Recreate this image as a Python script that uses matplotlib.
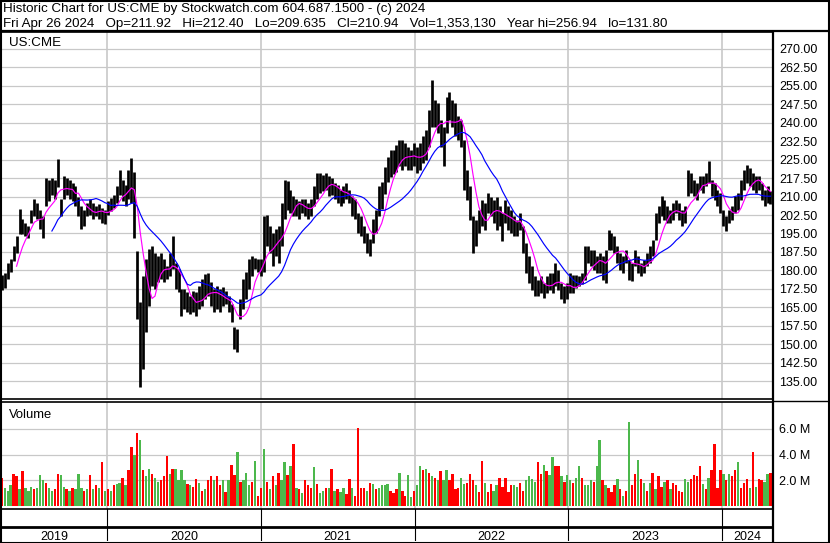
import numpy as np
import pandas as pd
import matplotlib
matplotlib.use("Agg")
import matplotlib.pyplot as plt
import matplotlib.dates as mdates
from matplotlib.lines import Line2D
from matplotlib.patches import Rectangle

plt.rcParams['font.family'] = ['Liberation Sans', 'DejaVu Sans']

# ---------------- data (weekly) ----------------
week_start = '2019-04-26'
n_weeks = 262

high = [178, 179, 183.2, 184.5, 190, 194, 205, 200.7, 199.4, 198,
        204.7, 208.8, 207.4, 204.7, 202, 217.5, 216.8, 217.5, 216.8, 225.2,
        208.8, 218.2, 217.5, 216.8, 215.5, 214.2, 210, 206, 204.7, 207.4,
        208.8, 207.4, 206, 206.8, 205.4, 204.7, 208, 209.4, 210.8, 214.2,
        220.9, 216.8, 214.8, 220.9, 225.6, 220, 187.9, 167, 177.8, 184.5,
        188.6, 190, 187.2, 185.9, 187.2, 184.5, 181.8, 187.2, 194, 183.2,
        180.5, 172.4, 172.4, 171.1, 169.7, 171.8, 171.1, 173.8, 176.5, 178.5,
        178.9, 175.1, 172.4, 173.8, 172.4, 173.1, 171.8, 169.7, 166.4, 157,
        156.3, 168.4, 176.5, 179.2, 184.5, 185.9, 185.2, 184.5, 184.5, 202,
        202.7, 198, 195.3, 196.7, 198, 207.4, 216.8, 216.2, 212.8, 210.1,
        208.8, 208, 208.8, 208.8, 207.4, 208.8, 214.2, 219.5, 219.5, 218.9,
        219.5, 218.2, 217.5, 215.5, 214.8, 212.8, 214.2, 215.5, 212.8, 210.1,
        208.8, 203.4, 202, 198, 195.3, 192.6, 200.7, 204.7, 214.2, 216,
        222, 226, 229, 229, 231, 233, 233, 231.7, 230.3, 229,
        231.7, 230.3, 231.7, 234.4, 237, 245.2, 257.4, 249.3, 247.9, 241.1,
        238.4, 250.6, 252.4, 249.3, 247.9, 242.5, 241.1, 233, 220.9, 214.1,
        202, 200.6, 204.7, 208.7, 207.4, 211.4, 210, 208.7, 210, 206,
        203.3, 208.7, 206, 204.7, 202, 200.6, 203.3, 197.9, 191.2, 185.8,
        181.7, 177.6, 176.3, 177.6, 175, 177.6, 179, 179, 183, 180.3,
        175, 173.6, 175, 179, 178, 178.3, 177.6, 179, 189.8, 189.8,
        188.4, 188.4, 185.7, 187.1, 185.7, 188.4, 196.6, 195.2, 193.9, 189.8,
        187.1, 185.7, 188.4, 184.4, 183, 188.4, 185.7, 183, 184.4, 187.1,
        189.8, 192.5, 203.3, 206, 210.1, 208.7, 206, 204.7, 207.4, 208.7,
        207.4, 204.7, 206, 220.9, 219.5, 216.8, 215.5, 218.2, 218.2, 219.5,
        224.3, 216.8, 215.5, 212.8, 211.4, 204.7, 202, 204.7, 206, 210.1,
        211.4, 216.8, 220.9, 222.9, 221.6, 219.5, 218.2, 218.2, 215.5, 212.8,
        214.1, 212.4]

low = [172, 173, 176.5, 179.2, 183.9, 187.2, 194.6, 194.6, 194, 193.3,
       199.4, 202, 200.7, 196.7, 193.3, 206, 208, 210.8, 208.8, 214,
       202, 208.8, 210.8, 208.8, 208, 206, 202, 196.7, 198, 202,
       202.7, 200.7, 202, 200.7, 199.4, 198.7, 202.7, 204, 205.4, 207.4,
       210.8, 208, 206, 208.8, 207.4, 193, 160.3, 132.7, 140.1, 155,
       165.7, 173.8, 172.4, 175.1, 176.5, 175.1, 176.5, 177.8, 180.5, 172.4,
       171.1, 161.7, 164.4, 163, 162.3, 163, 161.7, 164.4, 165.7, 168.4,
       169.7, 165.7, 163, 164.4, 163, 165.7, 166.4, 163, 159, 148.2,
       146.9, 160.3, 164.4, 168.4, 172.4, 177.8, 180.5, 179.2, 177.8, 179.2,
       190, 187.2, 181.9, 185.9, 183.2, 190, 200.7, 204.7, 203.4, 202,
       202, 200.7, 203.4, 202, 200.7, 202, 206, 208.8, 211.5, 212.1,
       212.8, 210.1, 210.8, 208.8, 207.4, 206, 207.4, 208.8, 207.4, 202,
       200.7, 195.3, 194, 191.3, 187.2, 185.9, 191.3, 195.3, 202, 205,
       211, 216, 218, 219, 220, 222.2, 220.9, 222.2, 220.9, 220.9,
       222.2, 219.5, 220.9, 223.6, 224.9, 230.3, 238.4, 238.4, 235.7, 230.3,
       222.2, 235.7, 241.1, 238.4, 234.4, 233, 230.3, 212.8, 208.7, 200.6,
       187.1, 189.8, 195.2, 197.9, 196.6, 203.3, 202, 199.3, 196.6, 197.9,
       191.8, 199.3, 196.6, 195.2, 193.9, 193.9, 196.6, 187.1, 179, 175,
       172.2, 169.5, 169.5, 170.9, 168.9, 170.9, 172.2, 170.9, 173.6, 172.2,
       168.2, 166.8, 168.2, 170.9, 171, 172.9, 173.6, 174.3, 176.3, 183,
       181.7, 180.3, 179, 179, 176.3, 174.9, 188.4, 188.4, 187.1, 183,
       180.3, 179, 183, 176.3, 175.6, 181.7, 179, 177.6, 179, 181.7,
       183, 185.7, 192.5, 199.3, 202, 200.6, 199.3, 199.3, 200.6, 203.3,
       200.6, 197.9, 199.3, 210.1, 211.4, 210.1, 208.7, 212.8, 211.4, 214.1,
       215.5, 210.1, 208.7, 206, 203.3, 197.9, 195.9, 199.3, 200.6, 203.3,
       204.7, 208.7, 212.8, 215.5, 214.1, 212.8, 211.4, 212.8, 208.7, 206,
       207.4, 206.8]

volume_m = [2.2, 1.4, 1.2, 1.6, 2.5, 2.3, 1.3, 2.7, 1.4, 1.2,
            1.5, 1.3, 1.4, 2.4, 2.0, 1.8, 1.4, 1.2, 1.3, 2.5,
            2.4, 1.5, 1.3, 1.2, 1.4, 1.3, 2.5, 1.4, 1.2, 1.3,
            2.4, 1.3, 1.6, 1.4, 3.4, 1.2, 1.3, 1.2, 1.6, 1.7,
            1.8, 2.2, 1.6, 2.8, 4.6, 4.0, 5.7, 5.1, 2.8, 2.3,
            2.9, 2.5, 2.2, 1.9, 2.0, 2.3, 3.9, 2.5, 2.9, 2.9,
            2.0, 2.8, 2.0, 1.7, 1.6, 1.5, 2.1, 1.8, 1.2, 1.3,
            2.0, 2.3, 2.0, 2.3, 1.6, 2.0, 1.1, 2.0, 3.2, 2.4,
            4.2, 1.9, 2.0, 2.6, 1.6, 1.9, 3.5, 0.8, 1.4, 4.4,
            1.9, 1.3, 2.3, 1.6, 2.6, 2.0, 3.4, 2.4, 3.1, 4.8,
            1.4, 1.3, 1.0, 2.0, 1.6, 1.4, 3.0, 1.7, 1.0, 1.2,
            1.4, 1.4, 2.9, 1.2, 1.3, 1.1, 1.4, 0.9, 2.1, 1.4,
            0.8, 6.1, 1.4, 1.4, 1.2, 1.8, 1.7, 1.3, 1.4, 1.6,
            1.6, 1.7, 1.2, 1.0, 1.3, 2.6, 1.2, 0.8, 2.4, 0.7,
            1.2, 1.6, 3.1, 2.8, 2.9, 2.6, 2.3, 2.2, 2.0, 2.7,
            2.0, 2.8, 2.0, 2.5, 1.3, 1.4, 2.2, 1.7, 1.8, 2.5,
            2.0, 1.6, 1.1, 3.5, 1.8, 1.1, 1.7, 1.2, 1.6, 2.2,
            1.5, 2.2, 1.1, 1.6, 1.6, 1.5, 1.8, 1.2, 2.0, 2.3,
            2.1, 1.9, 3.4, 2.5, 3.2, 2.7, 2.4, 3.8, 3.1, 3.1,
            2.3, 1.9, 2.4, 2.0, 1.8, 2.2, 3.1, 2.2, 1.6, 1.6,
            2.0, 1.9, 3.1, 5.1, 2.0, 1.6, 1.4, 1.1, 1.6, 2.1,
            1.3, 0.8, 1.2, 6.5, 1.6, 2.5, 3.6, 2.1, 1.8, 1.2,
            1.8, 2.6, 1.3, 2.3, 1.5, 1.9, 2.0, 1.3, 1.8, 1.6,
            1.2, 1.1, 2.1, 1.9, 2.1, 2.4, 2.3, 3.1, 1.7, 1.3,
            2.2, 2.8, 4.8, 1.4, 2.8, 2.5, 2.0, 2.5, 2.3, 2.8,
            3.4, 1.4, 1.8, 2.1, 1.4, 4.2, 1.5, 2.1, 2.0, 1.9,
            2.5, 2.6]

# g = up, r = down, k = unchanged
volume_dir = ("rgggrrgrgg" "grgggrggrr" "ggrgrgggrg" "rgrgrgrgrg"
              "grgrrgrgrg" "grggrrrgrg" "gggrgrrgrg" "rrgrrgrgrr"
              "grgggrgrrg" "rgrgrggrgr" "grgrrrgrgg" "rgrgrggrrg"
              "rrrrgrgrgg" "ggrrrgrrgg" "rggrgrgrgr" "ggrrrrggrr"
              "rgrrgrrggr" "rrrrggrrgg" "ggrrgrggrr" "grggrggrgg"
              "grggrgrrrg" "rgrgrrgrgr" "grgrrgrgrr" "rrggrrrrgr"
              "grrrrgrgrr" "grrrgrgrrg" "gr")

price_ticks = [135 + 7.5 * k for k in range(19)]
volume_ticks_m = [2.0, 4.0, 6.0]
years = [2019, 2020, 2021, 2022, 2023, 2024]

header1 = "Historic Chart for US:CME by Stockwatch.com 604.687.1500 - (c) 2024"
header2 = ("Fri Apr 26 2024   Op=211.92   Hi=212.40   Lo=209.635   Cl=210.94   "
           "Vol=1,353,130   Year hi=256.94   lo=131.80")

# ---------------- figure ----------------
W, H = 830, 543
fig = plt.figure(figsize=(W / 100, H / 100), dpi=100)
fig.patch.set_facecolor('white')


def rect(l, t, r, b):
    return [l / W, 1 - b / H, (r - l) / W, (b - t) / H]


def fline(x0, y0, x1, y1, lw=1.0, color='black'):
    fig.add_artist(Line2D([x0 / W, x1 / W], [1 - y0 / H, 1 - y1 / H],
                          transform=fig.transFigure, color=color, lw=lw,
                          solid_capstyle='butt'))


dates = pd.date_range(week_start, periods=n_weeks, freq='W-FRI')
xd = mdates.date2num(dates)
hi = np.array(high)
lo = np.array(low)
mid = pd.Series((hi + lo) / 2.0)
ma_fast = mid.rolling(6).mean()
ma_slow = mid.rolling(18).mean()

x_left = mdates.date2num(pd.Timestamp('2019-04-24'))
x_right = mdates.date2num(pd.Timestamp('2024-05-02'))
year_x = [mdates.date2num(pd.Timestamp(f'{y}-01-01')) for y in years[1:]]

grid_c = '#C8C8C8'

# ---- price panel ----
ax = fig.add_axes(rect(1, 32, 773, 399))
ax.set_xlim(x_left, x_right)
ax.set_ylim(127.8, 276.8)
for v in price_ticks:
    ax.axhline(v, color=grid_c, lw=0.9, zorder=0)
for xv in year_x:
    ax.axvline(xv, color=grid_c, lw=1.2, zorder=0)
ax.vlines(xd, lo, hi, colors='black', lw=1.95, zorder=2)
ax.plot(xd, ma_fast, color='#FF00FF', lw=0.85, zorder=3)
ax.plot(xd, ma_slow, color='#0000FF', lw=0.85, zorder=3)
ax.set_xticks([])
ax.yaxis.tick_right()
ax.set_yticks(price_ticks)
ax.set_yticklabels([f'{v:.2f}' for v in price_ticks], fontsize=9)
ax.tick_params(axis='y', length=0, pad=4.5)
for s in ax.spines.values():
    s.set_linewidth(1.2)
ax.text(8 / 772, 1 - 13.7 / 367, 'US:CME', transform=ax.transAxes,
        fontsize=9.6, va='baseline', ha='left')

# ---- volume panel ----
vax = fig.add_axes(rect(1, 402, 773, 509))
vax.set_xlim(x_left, x_right)
vax.set_ylim(-0.233, 8.09)
for v in volume_ticks_m:
    vax.axhline(v, color=grid_c, lw=0.9, zorder=0)
for xv in year_x:
    vax.axvline(xv, color=grid_c, lw=1.2, zorder=0)
cmap = {'g': '#4CB84C', 'r': '#FF0000', 'k': '#A8A8A8'}
vax.bar(xd, volume_m, width=5.6, bottom=0,
        color=[cmap[c] for c in volume_dir], zorder=2, linewidth=0)
vax.set_xticks([])
vax.yaxis.tick_right()
vax.set_yticks(volume_ticks_m)
vax.set_yticklabels([f'{v:.1f} M' for v in volume_ticks_m], fontsize=9)
vax.tick_params(axis='y', length=0, pad=4.5)
for s in vax.spines.values():
    s.set_linewidth(1.2)
vax.text(8 / 772, 1 - 16 / 107, 'Volume', transform=vax.transAxes,
         fontsize=9.4, va='baseline', ha='left')

# ---- year row ----
yax = fig.add_axes(rect(1, 509, 773, 541))
yax.set_xlim(x_left, x_right)
yax.set_ylim(32, 0)
yax.axis('off')
for xv in year_x:
    yax.plot([xv, xv], [0, 32], color='black', lw=0.8)
yax.plot([x_left, x_right], [18, 18], color='black', lw=2.0,
         solid_capstyle='butt')
bounds = [x_left] + year_x + [x_right]
for k, y in enumerate(years):
    yax.text((bounds[k] + bounds[k + 1]) / 2, 30.5, str(y), fontsize=9,
             ha='center', va='baseline')

# ---- header and frame ----
fig.text(3 / W, 1 - 12 / H, header1, fontsize=9.6, ha='left', va='baseline')
fig.text(3 / W, 1 - 27 / H, header2, fontsize=9.6, ha='left', va='baseline')
fline(0, 31, W, 31, lw=1.6)
fline(773, 31, 773, H, lw=1.6)
fline(773, 400.5, W, 400.5, lw=1.0)
fig.add_artist(Rectangle((0.5 / W, 0.5 / H), (W - 1.5) / W, (H - 1.5) / H,
                         transform=fig.transFigure, fill=False,
                         edgecolor='black', lw=1.5))

fig.savefig('out.png', dpi=100)
